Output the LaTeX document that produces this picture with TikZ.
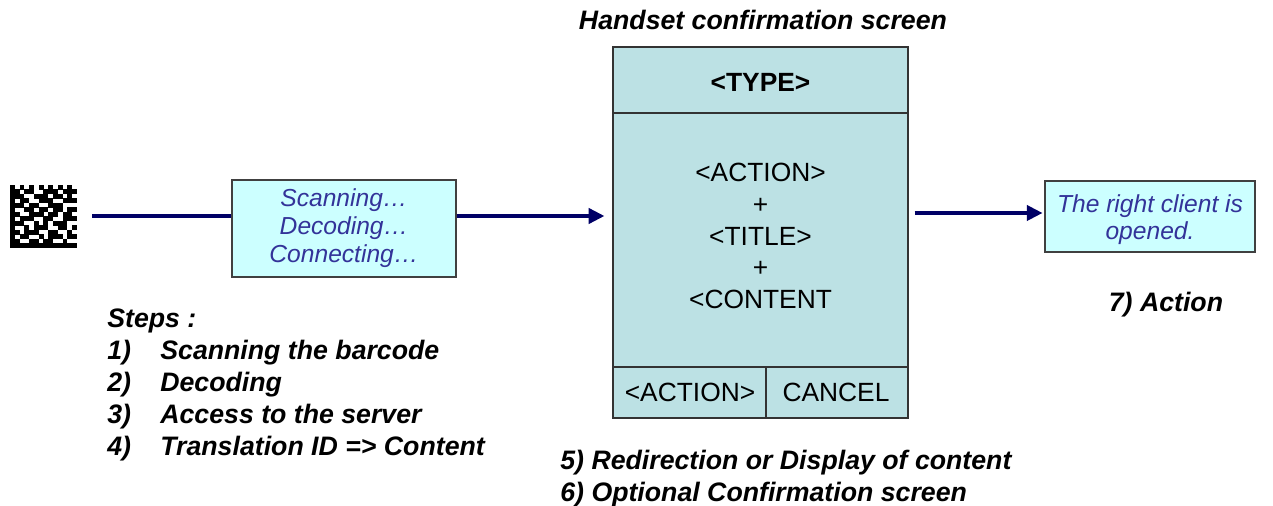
\documentclass[tikz,border=0pt]{standalone}
\usepackage{fontspec}
\setmainfont{Liberation Sans}
\usetikzlibrary{arrows.meta, positioning}

\definecolor{navy}{HTML}{000066}
\definecolor{paleblue}{HTML}{CCFFFF}
\definecolor{screenblue}{HTML}{BCE1E4}
\definecolor{inkblue}{HTML}{333399}

\begin{document}
\begin{tikzpicture}[x=0.02cm, y=-0.02cm,
  flow/.style={navy, line width=2.8pt},
  tip/.style={-{Triangle[length=9pt,width=8.5pt]}},
  infobox/.style={draw=black!75, fill=paleblue, line width=0.7pt, text=inkblue,
    font=\fontsize{14}{16}\selectfont\itshape, align=center, inner sep=0pt},
  frame/.style={black!80, line width=0.7pt},
  screentxt/.style={font=\fontsize{15}{18}\selectfont, inner sep=0pt},
  steptxt/.style={font=\fontsize{15.2}{18}\selectfont\bfseries\itshape, anchor=base west, inner sep=0pt}]

\useasboundingbox (0,0) rectangle (1273,506);

%% 2D code, one row per entry
\foreach \r/\cols in {0/{0,2,4,6,8,10,12}, 1/{0,1,3,4,7,8,9,11,12,13},
    2/{0,1,2,5,6,7,9,10,12}, 3/{0,2,3,6,7,8,11,12,13}, 4/{0,1,2,4,5,8,9,10},
    5/{0,3,4,6,7,9,10,12,13}, 6/{0,1,4,5,6,8,9,11,12}, 7/{0,2,3,4,7,8,11,12,13},
    8/{0,1,2,5,7,9,10,11}, 9/{0,3,5,6,7,10,11,13}, 10/{0,1,3,4,5,8,9,12},
    11/{0,2,3,6,8,9,10,12,13}, 12/{0,1,4,5,7,8,11}, 13/{0,1,...,13}} {
  \foreach \c in \cols
    \fill ({10+4.78*\c},{185+4.5*\r}) rectangle ++(4.83,4.55);
}

\coordinate (start) at (92,216);

\node[infobox, minimum width=4.48cm, minimum height=1.94cm] (scan) at (344,228.5)
  {Scanning…\\Decoding…\\Connecting…};

%% handset screen
\node[draw=black!80, fill=screenblue, line width=0.7pt, minimum width=5.9cm, minimum height=7.42cm] (screen) at (760.5,232.5) {};
\draw[frame] (screen.west |- 0,113) -- (screen.east |- 0,113);
\draw[frame] (screen.west |- 0,367) -- (screen.east |- 0,367);
\draw[frame] (766,367) -- (766,418);

\node[screentxt, font=\fontsize{15}{18}\selectfont\bfseries] (type) at (760.5,82) {<TYPE>};
\node[screentxt, align=center] (body) at (760.5,236) {<ACTION>\\+\\<TITLE>\\+\\<CONTENT};
\node[screentxt] (ok) at (690,392) {<ACTION>};
\node[screentxt] (cancel) at (836,392) {CANCEL};
\node[steptxt, anchor=base] (title) at (763,30) {Handset confirmation screen};

\node[infobox, minimum width=4.2cm, minimum height=1.42cm] (client) at (1150,216.5) {};
\node[infobox, draw=none, fill=none, font=\fontsize{14}{15.3}\selectfont\itshape] (clienttxt) at (1150,219.5)
  {The right client is\\opened.};

%% arrows
\draw[flow] (start) -- (start -| scan.west);
\draw[flow, tip, shorten >=4.5pt] (scan.east |- start) -- (screen.west |- start);
\draw[flow, tip, shorten <=3.4pt, shorten >=1pt] (screen.east |- 0,213) -- (client.west |- 0,213);

\node[steptxt, anchor=base] (action) at (1166,311) {7) Action};

%% steps
\node[steptxt] (steps) at (107,327) {Steps :};
\foreach \n/\txt [count=\i] in {1/Scanning the barcode, 2/Decoding,
    3/Access to the server, 4/Translation ID => Content} {
  \node[steptxt] (num\i) at (107,{327+32*\i}) {\n)};
  \node[steptxt] (step\i) at (160,{327+32*\i}) {\txt};
}
\node[steptxt] (step5) at (560,469) {5) Redirection or Display of content};
\node[steptxt] (step6) at (560,501) {6) Optional Confirmation screen};

\end{tikzpicture}
\end{document}
